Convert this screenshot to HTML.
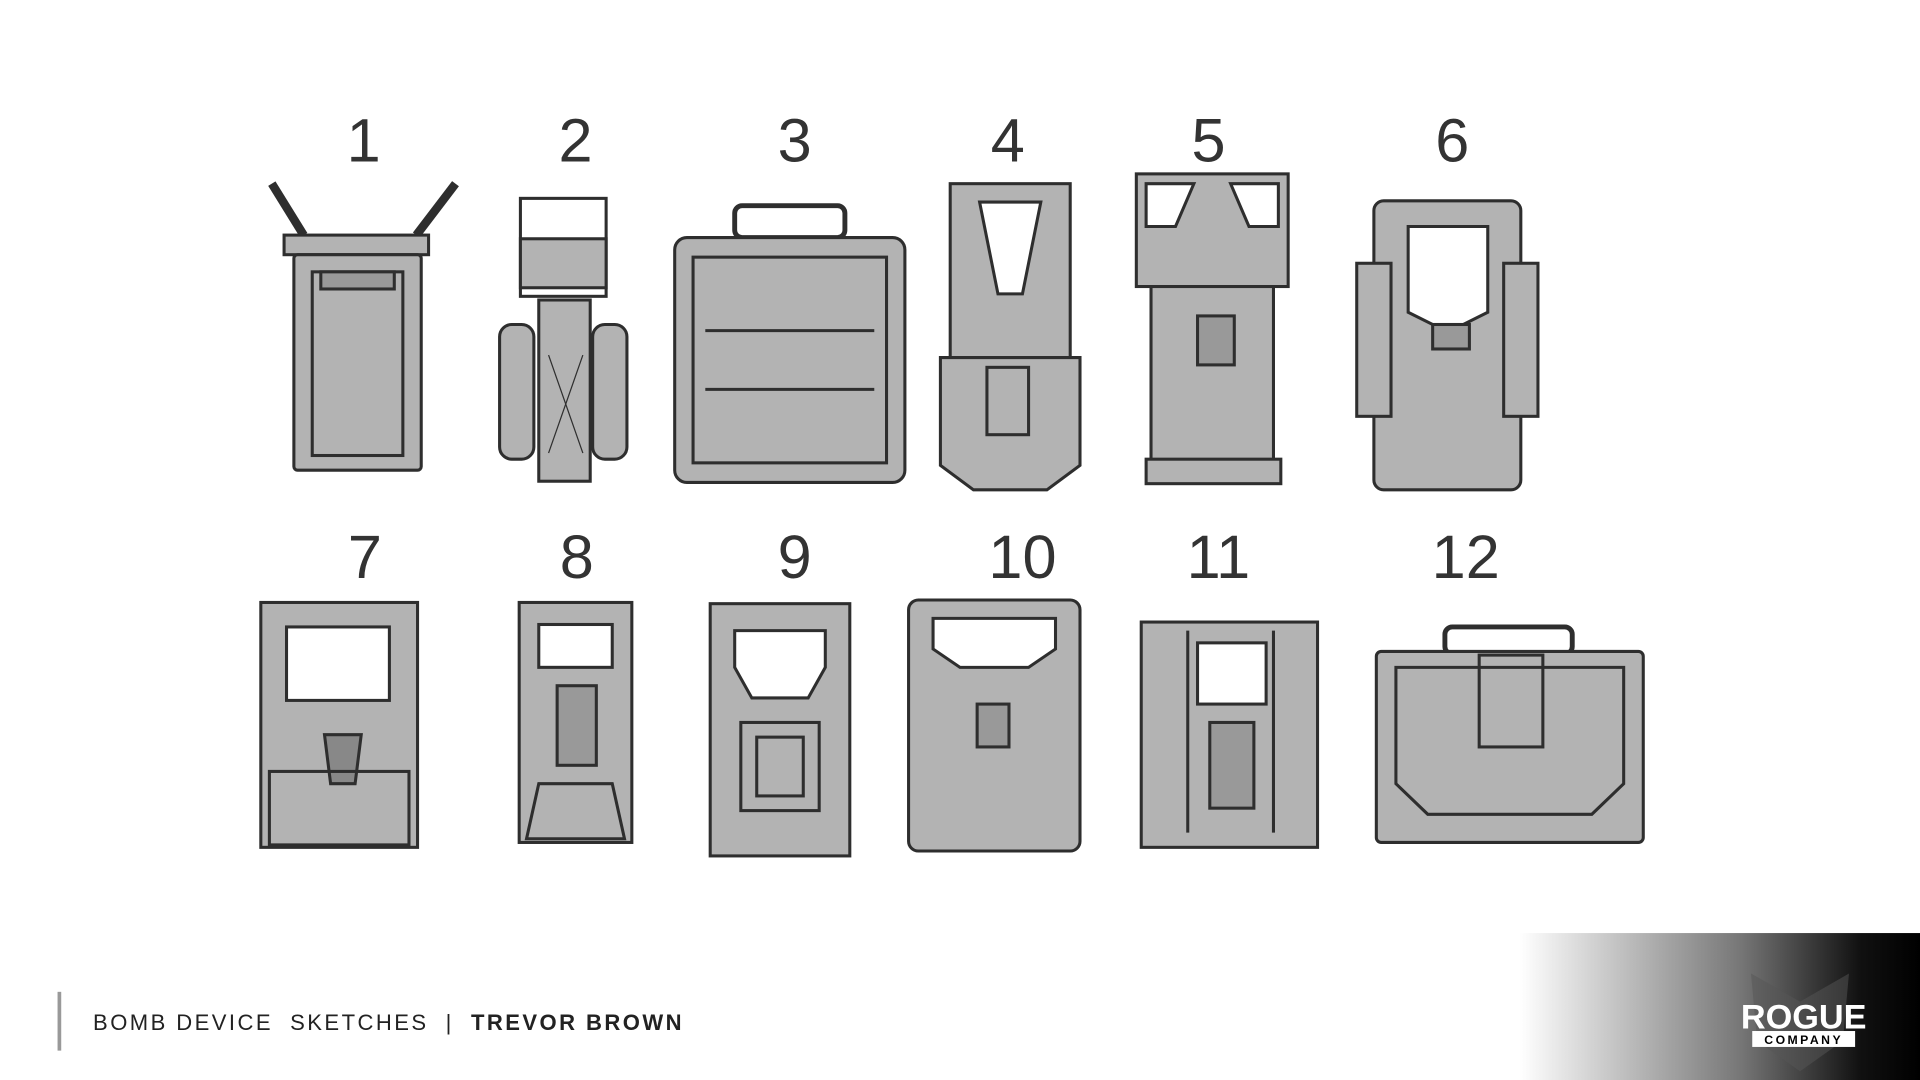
<!DOCTYPE html>
<html><head><meta charset="utf-8"><style>
html,body{margin:0;padding:0;background:#fff;width:1920px;height:1080px;overflow:hidden}
svg{display:block}
</style></head><body>
<svg width="1920" height="1080" viewBox="0 0 1568 882" xmlns="http://www.w3.org/2000/svg">
<defs>
<linearGradient id="g" x1="0" x2="1" y1="0" y2="0">
<stop offset="0" stop-color="#fff"/><stop offset="0.55" stop-color="#777"/><stop offset="0.85" stop-color="#111"/><stop offset="1" stop-color="#000"/>
</linearGradient>
</defs>
<rect width="1568" height="882" fill="#fff"/>
<g font-family="Liberation Sans, sans-serif" font-size="50" fill="#333" text-anchor="middle" font-weight="normal">
<text x="297" y="132">1</text><text x="470" y="132">2</text><text x="649" y="132">3</text><text x="823" y="132">4</text><text x="987" y="132">5</text><text x="1186" y="132">6</text>
<text x="298" y="472">7</text><text x="471" y="472">8</text><text x="649" y="472">9</text><text x="835" y="472">10</text><text x="995" y="472">11</text><text x="1197" y="472">12</text>
</g>
<g fill="#b3b3b3" stroke="#2e2e2e" stroke-width="2.5">
<line x1="222" y1="150" x2="248" y2="192" stroke-width="7"/><line x1="372" y1="150" x2="340" y2="192" stroke-width="7"/>
<rect x="232" y="192" width="118" height="16"/>
<rect x="240" y="208" width="104" height="176" rx="3"/>
<rect x="255" y="222" width="74" height="150" fill="none"/>
<rect x="262" y="222" width="60" height="14" fill="#999"/>
<rect x="425" y="162" width="70" height="80" fill="none"/>
<rect x="425" y="195" width="70" height="40"/>
<rect x="440" y="245" width="42" height="148"/>
<rect x="408" y="265" width="28" height="110" rx="10"/>
<rect x="484" y="265" width="28" height="110" rx="10"/>
<line x1="448" y1="290" x2="476" y2="370" stroke-width="1"/><line x1="476" y1="290" x2="448" y2="370" stroke-width="1"/>
<rect x="600" y="168" width="90" height="26" rx="6" fill="none" stroke-width="4"/>
<rect x="551" y="194" width="188" height="200" rx="10"/>
<rect x="566" y="210" width="158" height="168" fill="none"/>
<line x1="576" y1="270" x2="714" y2="270"/><line x1="576" y1="318" x2="714" y2="318"/>
<rect x="776" y="150" width="98" height="145"/>
<path d="M800 165 L850 165 L835 240 L815 240 Z" fill="#fff"/>
<path d="M768 292 L882 292 L882 380 L855 400 L795 400 L768 380 Z"/>
<rect x="806" y="300" width="34" height="55" fill="none"/>
<rect x="928" y="142" width="124" height="92"/>
<path d="M936 150 L975 150 L960 185 L936 185 Z M1044 150 L1005 150 L1020 185 L1044 185 Z" fill="#fff"/>
<rect x="940" y="234" width="100" height="160"/>
<rect x="978" y="258" width="30" height="40" fill="#999"/>
<rect x="936" y="375" width="110" height="20"/>
<rect x="1122" y="164" width="120" height="236" rx="8"/>
<rect x="1108" y="215" width="28" height="125"/><rect x="1228" y="215" width="28" height="125"/>
<path d="M1150 185 L1215 185 L1215 255 L1195 265 L1170 265 L1150 255 Z" fill="#fff"/>
<rect x="1170" y="265" width="30" height="20" fill="#999"/>
<rect x="213" y="492" width="128" height="200"/>
<rect x="234" y="512" width="84" height="60" fill="#fff"/>
<path d="M265 600 L295 600 L290 640 L270 640 Z" fill="#888"/>
<rect x="220" y="630" width="114" height="60" fill="none"/>
<rect x="424" y="492" width="92" height="196"/>
<rect x="440" y="510" width="60" height="35" fill="#fff"/>
<rect x="455" y="560" width="32" height="65" fill="#999"/>
<path d="M440 640 L500 640 L510 685 L430 685 Z" fill="none"/>
<rect x="580" y="493" width="114" height="206"/>
<path d="M600 515 L674 515 L674 545 L660 570 L614 570 L600 545 Z" fill="#fff"/>
<rect x="605" y="590" width="64" height="72"/>
<rect x="618" y="602" width="38" height="48" fill="none"/>
<rect x="742" y="490" width="140" height="205" rx="8"/>
<path d="M762 505 L862 505 L862 530 L840 545 L784 545 L762 530 Z" fill="#fff"/>
<rect x="798" y="575" width="26" height="35" fill="#999"/>
<rect x="932" y="508" width="144" height="184"/>
<rect x="978" y="525" width="56" height="50" fill="#fff"/>
<line x1="970" y1="515" x2="970" y2="680"/><line x1="1040" y1="515" x2="1040" y2="680"/>
<rect x="988" y="590" width="36" height="70" fill="#999"/>
<rect x="1180" y="512" width="104" height="22" rx="6" fill="none" stroke-width="4"/>
<rect x="1124" y="532" width="218" height="156" rx="4"/>
<path d="M1140 545 L1326 545 L1326 640 L1300 665 L1166 665 L1140 640 Z" fill="none"/>
<rect x="1208" y="535" width="52" height="75" fill="none"/>
</g>
<rect x="1241" y="762" width="327" height="120" fill="url(#g)"/>
<path d="M1430 795 L1470 818 L1510 795 L1505 850 L1470 875 L1435 850 Z" fill="#555" opacity="0.5"/>
<text x="1473" y="840" font-family="Liberation Sans, sans-serif" font-weight="bold" font-size="28" fill="#fff" text-anchor="middle">ROGUE</text>
<rect x="1431" y="842" width="84" height="13" fill="#fff"/>
<text x="1473" y="852.5" font-family="Liberation Sans, sans-serif" font-weight="bold" font-size="10" letter-spacing="2" fill="#000" text-anchor="middle">COMPANY</text>
<rect x="47" y="810" width="3" height="48" fill="#999"/>
<text x="76" y="841" font-family="Liberation Sans, sans-serif" font-size="18" letter-spacing="2" fill="#222" xml:space="preserve">BOMB DEVICE  SKETCHES  |  <tspan font-weight="bold">TREVOR BROWN</tspan></text>
</svg>
</body></html>
